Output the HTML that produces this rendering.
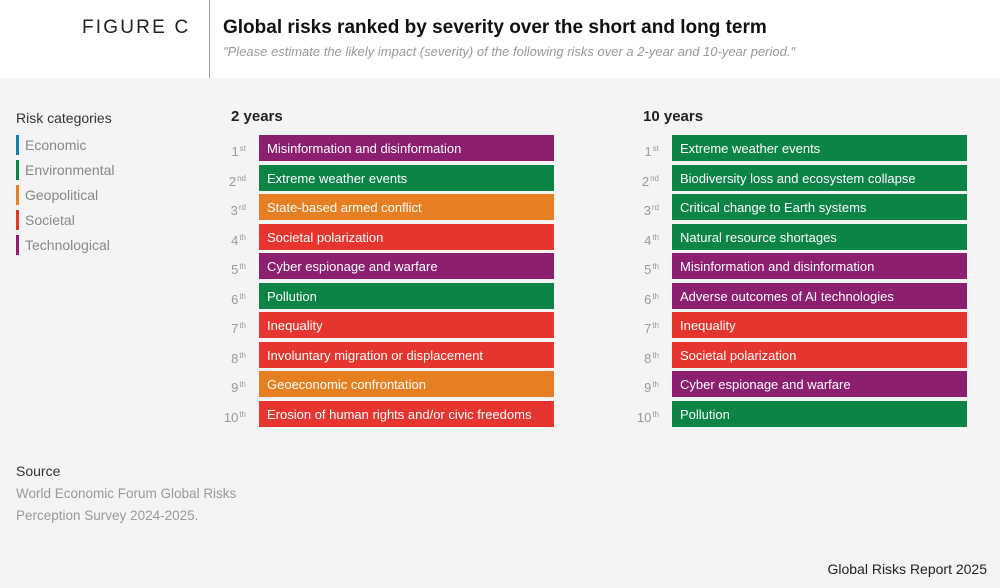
<!DOCTYPE html>
<html><head><meta charset="utf-8"><style>
*{margin:0;padding:0;box-sizing:border-box}
body{width:1000px;height:588px;background:#f4f4f4;font-family:"Liberation Sans",sans-serif;position:relative;overflow:hidden}
.abs{position:absolute}
#header{left:0;top:0;width:1000px;height:78px;background:#fff}
.bar{position:absolute;height:26px;color:#fff;font-size:13px;line-height:27px;padding-left:8px;white-space:nowrap}
.rank{position:absolute;width:30px;text-align:right;color:#999;font-size:13px;line-height:28px}
.rank sup{font-size:8px;vertical-align:5px;margin-left:1px}
.leg{position:absolute;left:16px;font-size:14px;color:#888;padding-left:9px;height:20px;line-height:20px}
.leg i{position:absolute;left:0;top:0;width:3px;height:20px}
</style></head><body>
<div id="header" class="abs"></div>
<div class="abs" style="left:209px;top:0;width:1px;height:78px;background:#999"></div>
<div class="abs" style="left:82px;top:17px;font-size:19px;letter-spacing:2.2px;color:#222">FIGURE C</div>
<div class="abs" style="left:223px;top:17px;font-size:19px;font-weight:bold;color:#111">Global risks ranked by severity over the short and long term</div>
<div class="abs" style="left:223px;top:44px;font-size:13px;font-style:italic;color:#999">"Please estimate the likely impact (severity) of the following risks over a 2-year and 10-year period."</div>
<div class="abs" style="left:16px;top:110px;font-size:14px;color:#333">Risk categories</div>
<div class="abs" style="left:231px;top:108px;font-size:15px;font-weight:bold;color:#222">2 years</div>
<div class="abs" style="left:643px;top:108px;font-size:15px;font-weight:bold;color:#222">10 years</div>
<div class="abs" style="left:16px;top:463px;font-size:14px;color:#333">Source</div>
<div class="abs" style="left:16px;top:483px;font-size:13.5px;color:#999;line-height:22px">World Economic Forum Global Risks<br>Perception Survey 2024-2025.</div>
<div class="abs" style="right:13px;top:561px;font-size:14px;color:#222">Global Risks Report 2025</div>
<script>
const categories=["Economic","Environmental","Geopolitical","Societal","Technological"];
const catColors={Economic:"#1b7bbf",Environmental:"#0c8446",Geopolitical:"#e67e22",Societal:"#e5352e",Technological:"#8c1f6f"};
const risks2y=["Misinformation and disinformation","Extreme weather events","State-based armed conflict","Societal polarization","Cyber espionage and warfare","Pollution","Inequality","Involuntary migration or displacement","Geoeconomic confrontation","Erosion of human rights and/or civic freedoms"];
const cats2y=["Technological","Environmental","Geopolitical","Societal","Technological","Environmental","Societal","Societal","Geopolitical","Societal"];
const risks10y=["Extreme weather events","Biodiversity loss and ecosystem collapse","Critical change to Earth systems","Natural resource shortages","Misinformation and disinformation","Adverse outcomes of AI technologies","Inequality","Societal polarization","Cyber espionage and warfare","Pollution"];
const cats10y=["Environmental","Environmental","Environmental","Environmental","Technological","Technological","Societal","Societal","Technological","Environmental"];
const ranks=[1,2,3,4,5,6,7,8,9,10];
const suffix=r=>r==1?"st":r==2?"nd":r==3?"rd":"th";
const rowY=i=>135+i*29.55;
categories.forEach((c,i)=>{
 const d=document.createElement('div');d.className='leg';d.style.top=(135+i*25)+'px';
 
 
 d.innerHTML='<i style="background:'+catColors[c]+'"></i>'+c;document.body.appendChild(d);
});
function col(risks,cats,x,name){
 risks.forEach((r,i)=>{
  const rk=document.createElement('div');rk.className='rank';
  
  
  rk.style.left=(x-43)+'px';rk.style.top=rowY(i)+'px';
  rk.innerHTML=ranks[i]+'<sup>'+suffix(ranks[i])+'</sup>';document.body.appendChild(rk);
  const b=document.createElement('div');b.className='bar';
  
  
  b.style.left=x+'px';b.style.width='295px';b.style.top=rowY(i)+'px';b.style.background=catColors[cats[i]];
  b.textContent=r;document.body.appendChild(b);
 });
}
col(risks2y,cats2y,259,'risk-2y');
col(risks10y,cats10y,672,'risk-10y');
</script>
</body></html>
